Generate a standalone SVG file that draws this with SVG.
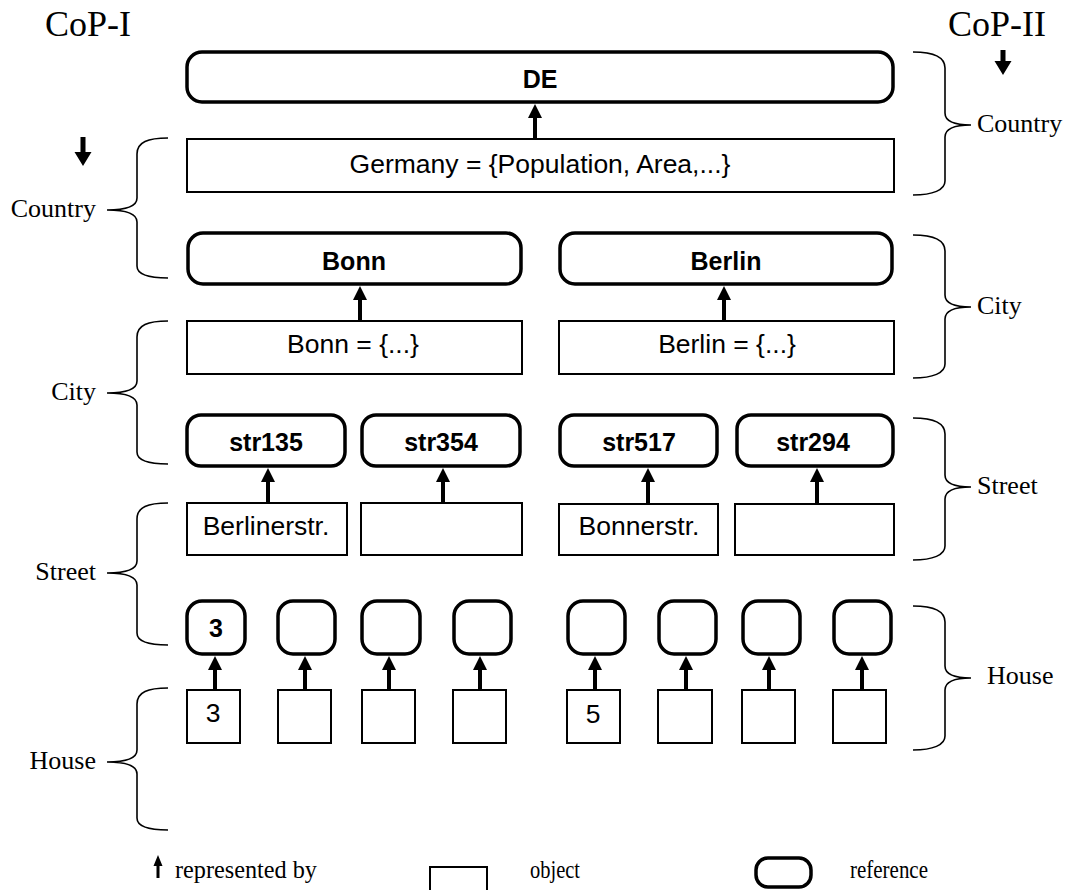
<svg xmlns="http://www.w3.org/2000/svg" width="1073" height="890" viewBox="0 0 1073 890">
  <style>
    .ref { fill: #fff; stroke: #000; stroke-width: 3.5; }
    .obj { fill: #fff; stroke: #000; stroke-width: 2; }
    .rt { font-family: "Liberation Sans", Arial, sans-serif; font-size: 25px; font-weight: bold; text-anchor: middle; fill: #000; }
    .ot { font-family: "Liberation Sans", Arial, sans-serif; font-size: 26.5px; text-anchor: middle; fill: #000; }
    .lbl { font-family: "Liberation Serif", "Times New Roman", serif; font-size: 26px; fill: #000; }
    .leg { font-family: "Liberation Serif", "Times New Roman", serif; font-size: 25px; fill: #000; }
    .cop { font-family: "Liberation Serif", "Times New Roman", serif; font-size: 36px; fill: #000; }
    .brace { fill: none; stroke: #000; stroke-width: 1.6; }
    .conn { stroke: #000; stroke-width: 4; fill: none; marker-end: url(#ah); }
  </style>
  <defs>
    <marker id="ah" markerUnits="userSpaceOnUse" viewBox="0 0 14 14" markerWidth="14" markerHeight="14" refX="6" refY="7" orient="auto">
      <path d="M0,0 L14,7 L0,14 z" fill="#000"/>
    </marker>
  </defs>

  <rect width="1073" height="890" fill="#fff"/>

  <!-- headings -->
  <text class="cop" x="45" y="36">CoP-I</text>
  <text class="cop" x="948" y="36">CoP-II</text>
  <!-- direction markers -->
  <path d="M80.5,137 h5 v15 h6 l-8.5,14 l-8.5,-14 h6 z" fill="#000"/>
  <path d="M1000.5,50 h5 v11 h6 l-8.5,14 l-8.5,-14 h6 z" fill="#000"/>

  <!-- country level -->
  <g id="node-de">
    <rect class="ref" x="187" y="52" width="706" height="50" rx="15"/>
    <text class="rt" x="540" y="88">DE</text>
  </g>
  <g id="node-germany">
    <rect class="obj" x="187" y="139" width="707" height="53"/>
    <text class="ot" x="540" y="173">Germany = {Population, Area,...}</text>
  </g>

  <!-- city level -->
  <g id="node-bonn-ref">
    <rect class="ref" x="188" y="233" width="333" height="51" rx="15"/>
    <text class="rt" x="354" y="270">Bonn</text>
  </g>
  <g id="node-berlin-ref">
    <rect class="ref" x="560" y="233" width="332" height="51" rx="15"/>
    <text class="rt" x="726" y="270">Berlin</text>
  </g>
  <g id="node-bonn-obj">
    <rect class="obj" x="187" y="321" width="335" height="53"/>
    <text class="ot" x="353" y="353">Bonn = {...}</text>
  </g>
  <g id="node-berlin-obj">
    <rect class="obj" x="559" y="321" width="335" height="53"/>
    <text class="ot" x="727" y="353">Berlin = {...}</text>
  </g>

  <!-- street level -->
  <g id="node-str135">
    <rect class="ref" x="187" y="415" width="158" height="51" rx="14"/>
    <text class="rt" x="266" y="451">str135</text>
  </g>
  <g id="node-str354">
    <rect class="ref" x="362" y="415" width="158" height="51" rx="14"/>
    <text class="rt" x="441" y="451">str354</text>
  </g>
  <g id="node-str517">
    <rect class="ref" x="560" y="415" width="157" height="51" rx="14"/>
    <text class="rt" x="639" y="451">str517</text>
  </g>
  <g id="node-str294">
    <rect class="ref" x="737" y="415" width="156" height="51" rx="14"/>
    <text class="rt" x="813" y="451">str294</text>
  </g>
  <g id="node-berlinerstr">
    <rect class="obj" x="187" y="503" width="160" height="52"/>
    <text class="ot" x="266" y="535">Berlinerstr.</text>
  </g>
  <g id="node-street-obj-2">
    <rect class="obj" x="361" y="503" width="161" height="52"/>
  </g>
  <g id="node-bonnerstr">
    <rect class="obj" x="559" y="504" width="159" height="51"/>
    <text class="ot" x="639" y="535">Bonnerstr.</text>
  </g>
  <g id="node-street-obj-4">
    <rect class="obj" x="735" y="504" width="159" height="51"/>
  </g>

  <!-- house level: references -->
  <g id="node-house-ref-1">
    <rect class="ref" x="187" y="601" width="58" height="53" rx="15"/>
    <text class="rt" x="216" y="637">3</text>
  </g>
  <g id="node-house-ref-2"><rect class="ref" x="278" y="601" width="57" height="53" rx="15"/></g>
  <g id="node-house-ref-3"><rect class="ref" x="362" y="601" width="58" height="53" rx="15"/></g>
  <g id="node-house-ref-4"><rect class="ref" x="454" y="601" width="57" height="53" rx="15"/></g>
  <g id="node-house-ref-5"><rect class="ref" x="568" y="601" width="57" height="53" rx="15"/></g>
  <g id="node-house-ref-6"><rect class="ref" x="659" y="601" width="57" height="53" rx="15"/></g>
  <g id="node-house-ref-7"><rect class="ref" x="743" y="601" width="57" height="53" rx="15"/></g>
  <g id="node-house-ref-8"><rect class="ref" x="834" y="601" width="57" height="53" rx="15"/></g>

  <!-- house level: objects -->
  <g id="node-house-obj-1">
    <rect class="obj" x="187" y="690" width="53" height="53"/>
    <text class="ot" x="213" y="722">3</text>
  </g>
  <g id="node-house-obj-2"><rect class="obj" x="278" y="690" width="53" height="53"/></g>
  <g id="node-house-obj-3"><rect class="obj" x="362" y="690" width="53" height="53"/></g>
  <g id="node-house-obj-4"><rect class="obj" x="453" y="690" width="53" height="53"/></g>
  <g id="node-house-obj-5">
    <rect class="obj" x="567" y="690" width="53" height="53"/>
    <text class="ot" x="593" y="723">5</text>
  </g>
  <g id="node-house-obj-6"><rect class="obj" x="658" y="690" width="54" height="53"/></g>
  <g id="node-house-obj-7"><rect class="obj" x="742" y="690" width="53" height="53"/></g>
  <g id="node-house-obj-8"><rect class="obj" x="833" y="690" width="53" height="53"/></g>

  <!-- "represented by" connectors: object -> reference -->
  <g id="connectors">
    <path class="conn" d="M535,139 V112"/>
    <path class="conn" d="M360,321 V294"/>
    <path class="conn" d="M724,321 V294"/>
    <path class="conn" d="M268,503 V476"/>
    <path class="conn" d="M443,503 V476"/>
    <path class="conn" d="M648,504 V476"/>
    <path class="conn" d="M817,504 V476"/>
    <path class="conn" d="M215,690 V664"/>
    <path class="conn" d="M305,690 V664"/>
    <path class="conn" d="M389,690 V664"/>
    <path class="conn" d="M480,690 V664"/>
    <path class="conn" d="M595,690 V664"/>
    <path class="conn" d="M686,690 V664"/>
    <path class="conn" d="M769,690 V664"/>
    <path class="conn" d="M862,690 V664"/>
  </g>

  <!-- CoP-I grouping braces (left) -->
  <g id="braces-left">
    <path class="brace" d="M168,138 C148,138 137,142 137,154 L137,198 C137,206 127,210 107,210 C127,210 137,214 137,222 L137,266 C137,274 148,278 168,278"/>
    <path class="brace" d="M168,321 C148,321 137,325 137,337 L137,381 C137,389 127,393 107,393 C127,393 137,397 137,405 L137,452 C137,460 148,464 168,464"/>
    <path class="brace" d="M168,503 C148,503 137,507 137,519 L137,561 C137,569 127,573 107,573 C127,573 137,577 137,585 L137,633 C137,641 148,645 168,645"/>
    <path class="brace" d="M168,688 C148,688 137,692 137,704 L137,750 C137,758 127,762 107,762 C127,762 137,766 137,774 L137,818 C137,826 148,830 168,830"/>
    <text class="lbl" x="96" y="217" text-anchor="end">Country</text>
    <text class="lbl" x="96" y="400" text-anchor="end">City</text>
    <text class="lbl" x="96" y="580" text-anchor="end">Street</text>
    <text class="lbl" x="96" y="769" text-anchor="end">House</text>
  </g>

  <!-- CoP-II grouping braces (right) -->
  <g id="braces-right">
    <path class="brace" d="M913,52 C933,52 945,56 945,68 L945,113 C945,121 955,125 971,125 C955,125 945,129 945,137 L945,181 C945,190 933,195 913,195"/>
    <path class="brace" d="M913,235 C933,235 945,239 945,251 L945,295 C945,303 955,307 971,307 C955,307 945,311 945,319 L945,364 C945,373 933,378 913,378"/>
    <path class="brace" d="M913,418 C933,418 945,422 945,434 L945,475 C945,483 955,487 971,487 C955,487 945,491 945,499 L945,546 C945,555 933,560 913,560"/>
    <path class="brace" d="M913,606 C933,606 945,610 945,622 L945,666 C945,674 955,678 971,678 C955,678 945,682 945,690 L945,736 C945,745 933,750 913,750"/>
    <text class="lbl" x="977" y="132">Country</text>
    <text class="lbl" x="977" y="314">City</text>
    <text class="lbl" x="977" y="494">Street</text>
    <text class="lbl" x="987" y="684">House</text>
  </g>

  <!-- legend -->
  <g id="legend">
    <path d="M156.5,878 V866 h-3 l4.5,-11 l4.5,11 h-3 V878 z" fill="#000"/>
    <text class="leg" x="175" y="878" textLength="142" lengthAdjust="spacingAndGlyphs">represented by</text>
    <rect class="obj" x="430" y="867" width="57" height="40"/>
    <text class="leg" x="530" y="878" textLength="50" lengthAdjust="spacingAndGlyphs">object</text>
    <rect class="ref" x="756" y="858" width="55" height="29" rx="12"/>
    <text class="leg" x="850" y="878" textLength="78" lengthAdjust="spacingAndGlyphs">reference</text>
  </g>
</svg>
